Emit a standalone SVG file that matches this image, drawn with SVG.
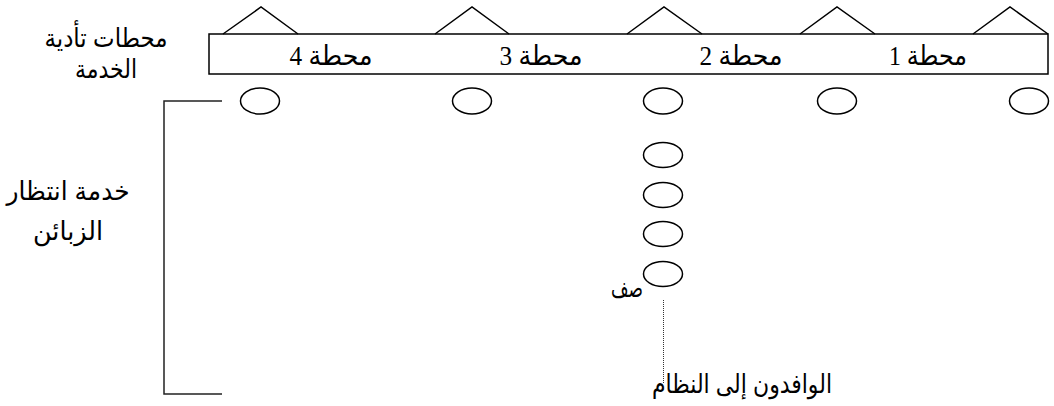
<svg xmlns="http://www.w3.org/2000/svg" width="1054" height="406" viewBox="0 0 1054 406">
  <style>
    .ln { fill: none; stroke: #000; stroke-width: 1.5; }
    .cust { fill: #fff; stroke: #000; stroke-width: 1.5; }
    .lbl { font-family: "Liberation Sans", "DejaVu Sans", sans-serif; font-size: 26px; fill: #000; text-anchor: middle; direction: rtl; }
    .st { font-family: "Liberation Serif", "DejaVu Serif", "DejaVu Sans", serif; font-size: 27px; fill: #000; text-anchor: middle; direction: rtl; }
  </style>

  <!-- service station bar with roofs -->
  <g id="stations">
    <rect class="ln" x="209" y="34" width="839" height="40"/>
    <polyline class="ln" points="223,34 261,7 298,34"/>
    <polyline class="ln" points="435,34 472,7 509,34"/>
    <polyline class="ln" points="627,34 664,7 702,34"/>
    <polyline class="ln" points="800,34 837,7 875,34"/>
    <polyline class="ln" points="973,34 1010,7 1048,34"/>
    <text class="st" x="331" y="65" textLength="83" lengthAdjust="spacingAndGlyphs">محطة 4</text>
    <text class="st" x="541" y="65" textLength="83" lengthAdjust="spacingAndGlyphs">محطة 3</text>
    <text class="st" x="741" y="65" textLength="83" lengthAdjust="spacingAndGlyphs">محطة 2</text>
    <text class="st" x="928" y="65" textLength="78" lengthAdjust="spacingAndGlyphs">محطة 1</text>
  </g>

  <!-- customers being served -->
  <g id="served">
    <ellipse class="cust" cx="260" cy="101" rx="19.5" ry="13"/>
    <ellipse class="cust" cx="472" cy="101" rx="19.5" ry="13"/>
    <ellipse class="cust" cx="663" cy="101" rx="19.5" ry="13"/>
    <ellipse class="cust" cx="837" cy="101" rx="19.5" ry="13"/>
    <ellipse class="cust" cx="1029" cy="101" rx="19.5" ry="13"/>
  </g>

  <!-- waiting line -->
  <g id="queue">
    <ellipse class="cust" cx="663" cy="155" rx="19.5" ry="12.5"/>
    <ellipse class="cust" cx="663" cy="195" rx="19.5" ry="12.5"/>
    <ellipse class="cust" cx="663" cy="234" rx="19.5" ry="12.5"/>
    <ellipse class="cust" cx="663" cy="274" rx="19.5" ry="12.5"/>
    <text class="lbl" x="627" y="297" textLength="32" lengthAdjust="spacingAndGlyphs">صف</text>
  </g>

  <g id="connectors">
    <polyline class="ln" points="222,101 164,101 164,394 222,394" style="stroke:#222"/>
    <line x1="663.5" y1="300" x2="663.5" y2="384" stroke="#333" stroke-width="1" stroke-dasharray="1,1"/>
  </g>

  <g id="label-stations">
    <text class="lbl" x="106" y="47" textLength="123" lengthAdjust="spacingAndGlyphs">محطات تأدية</text>
    <text class="lbl" x="106" y="78" textLength="62" lengthAdjust="spacingAndGlyphs">الخدمة</text>
  </g>

  <g id="label-waiting">
    <text class="lbl" x="68" y="200" textLength="123" lengthAdjust="spacingAndGlyphs">خدمة انتظار</text>
    <text class="lbl" x="68" y="240" textLength="70" lengthAdjust="spacingAndGlyphs">الزبائن</text>
  </g>

  <g id="label-arrivals">
    <text class="lbl" x="742" y="393" textLength="180" lengthAdjust="spacingAndGlyphs">الوافدون إلى النظام</text>
  </g>
</svg>
